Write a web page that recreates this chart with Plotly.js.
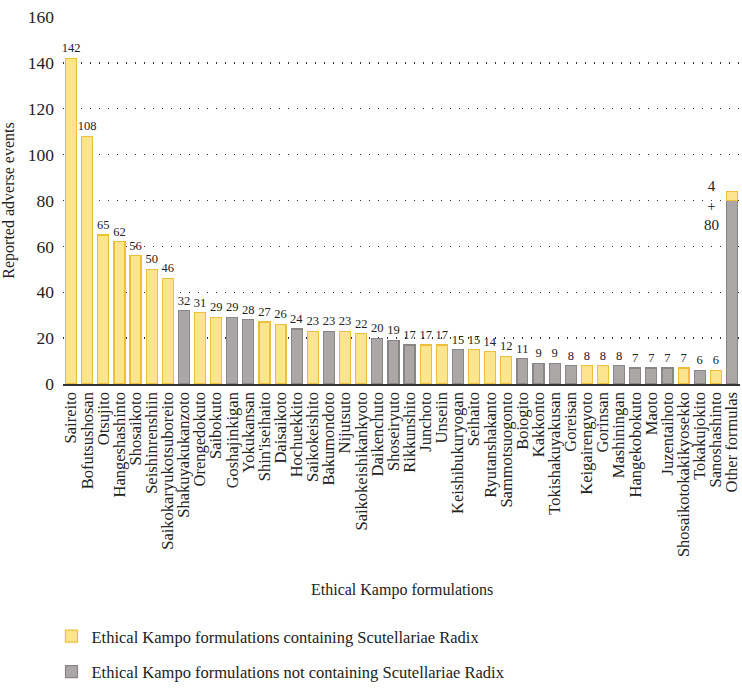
<!DOCTYPE html>
<html lang="en">

<head>
    <meta charset="UTF-8">
    <title>Reported adverse events by Kampo formulation</title>
    <script src="https://cdn.plot.ly/plotly-3.0.1.min.js" charset="utf-8"></script>
    <style>
        body { margin: 0; background: #fff; }
    </style>
</head>

<body>
    <div id="plot" style="width: 742px; height: 691px;"></div>

    <script>
        // formulations, in the order shown
        const formulas = [
            "Saireito", "Bofutsushosan", "Otsujito", "Hangeshashinto", "Shosaikoto",
            "Seishinrenshiin", "Saikokaryukotsuboreito", "Shakuyakukanzoto", "Orengedokuto",
            "Saibokuto", "Goshajinkigan", "Yokukansan", "Shin'iseihaito", "Daisaikoto",
            "Hochuekkito", "Saikokeishito", "Bakumondoto", "Nijutsuto", "Saikokeishikankyoto",
            "Daikenchuto", "Shoseiryuto", "Rikkunshito", "Junchoto", "Unseiin",
            "Keishibukuryogan", "Seihaito", "Ryutanshakanto", "Sammotsuogonto", "Boiogito",
            "Kakkonto", "Tokishakuyakusan", "Goreisan", "Keigairengyoto", "Gorinsan",
            "Mashiningan", "Hangekobokuto", "Maoto", "Juzentaihoto", "Shosaikotokakikyosekko",
            "Tokakujokito", "Sanoshashinto", "Other formulas"
        ];

        // events for formulations containing Scutellariae Radix (null = not in group)
        const withRadix = [
            142, 108, 65, 62, 56, 50, 46, null, 31, 29, null, null, 27, 26, null, 23, null, 23, 22,
            null, null, null, 17, 17, null, 15, 14, 12, null, null, null, null, 8, 8,
            null, null, null, null, 7, null, 6, 4
        ];

        // events for formulations not containing Scutellariae Radix
        const withoutRadix = [
            null, null, null, null, null, null, null, 32, null, null, 29, 28, null, null, 24, null, 23, null, null,
            20, 19, 17, null, null, 15, null, null, null, 11, 9, 9, 8, null, null,
            8, 7, 7, 7, null, 6, null, 80
        ];

        const serif = "Times New Roman";
        const last = formulas.length - 1;

        // value labels; the stacked "Other formulas" bar gets its own note
        const labelOf = (arr) => arr.map((v, i) => (v === null || i === last) ? "" : String(v));

        const grey = {
            name: "Ethical Kampo formulations not containing Scutellariae Radix",
            type: "bar",
            x: formulas,
            y: withoutRadix,
            text: labelOf(withoutRadix),
            textposition: "outside",
            constraintext: "none",
            cliponaxis: false,
            textfont: { family: serif, size: 12.5, color: "#222" },
            marker: { color: "#aba7a7", line: { color: "#8a8686", width: 1.2 } },
            legendrank: 2,
            legendgroup: "b",
            hoverinfo: "x+y"
        };

        const yellow = {
            name: "Ethical Kampo formulations containing Scutellariae Radix",
            type: "bar",
            x: formulas,
            y: withRadix,
            text: labelOf(withRadix),
            textposition: "outside",
            constraintext: "none",
            cliponaxis: false,
            textfont: { family: serif, size: 12.5, color: "#222" },
            marker: { color: "#fde590", line: { color: "#efbf3c", width: 1.2 } },
            legendrank: 1,
            legendgroup: "a",
            hoverinfo: "x+y"
        };

        const layout = {
            width: 742,
            height: 691,
            margin: { l: 63, r: 2, t: 17, b: 307 },
            paper_bgcolor: "#fff",
            plot_bgcolor: "#fff",
            font: { family: serif, size: 15, color: "#222" },
            barmode: "stack",
            bargap: 0.32,
            showlegend: true,
            legend: {
                x: -0.017, xanchor: "left",
                y: -0.64, yanchor: "top",
                font: { family: serif, size: 16.5, color: "#222" },
                tracegroupgap: 11,
                bgcolor: "rgba(0,0,0,0)"
            },
            xaxis: {
                type: "category",
                tickmode: "array",
                tickvals: formulas,
                ticktext: formulas,
                tickangle: -90,
                tickfont: { family: serif, size: 16.5, color: "#222" },
                showgrid: false,
                showline: true,
                linecolor: "#333",
                linewidth: 1.5,
                ticks: "",
                automargin: false
            },
            yaxis: {
                range: [0, 160],
                dtick: 20,
                tickfont: { family: serif, size: 17.5, color: "#222" },
                ticklabelstandoff: 8,
                showgrid: true,
                gridcolor: "#333",
                griddash: "1px,8px",
                gridwidth: 1.3,
                zeroline: false,
                showline: false,
                ticks: "",
                automargin: false,
                title: { text: "Reported adverse events", font: { family: serif, size: 16, color: "#222" }, standoff: 10 }
            },
            annotations: [
                {
                    xref: "x", yref: "y",
                    x: formulas[last], y: withoutRadix[last] + withRadix[last],
                    xshift: -20, yshift: -14,
                    text: withRadix[last] + "<br>+<br>" + withoutRadix[last],
                    showarrow: false,
                    font: { family: serif, size: 15, color: "#222" },
                    align: "center"
                },
                {
                    xref: "paper", yref: "paper",
                    x: 0.5, y: -0.56,
                    xanchor: "center", yanchor: "middle",
                    text: "Ethical Kampo formulations",
                    showarrow: false,
                    font: { family: serif, size: 16, color: "#222" }
                }
            ]
        };

        Plotly.newPlot("plot", [grey, yellow], layout, { displayModeBar: false, staticPlot: true });
    </script>
</body>

</html>
